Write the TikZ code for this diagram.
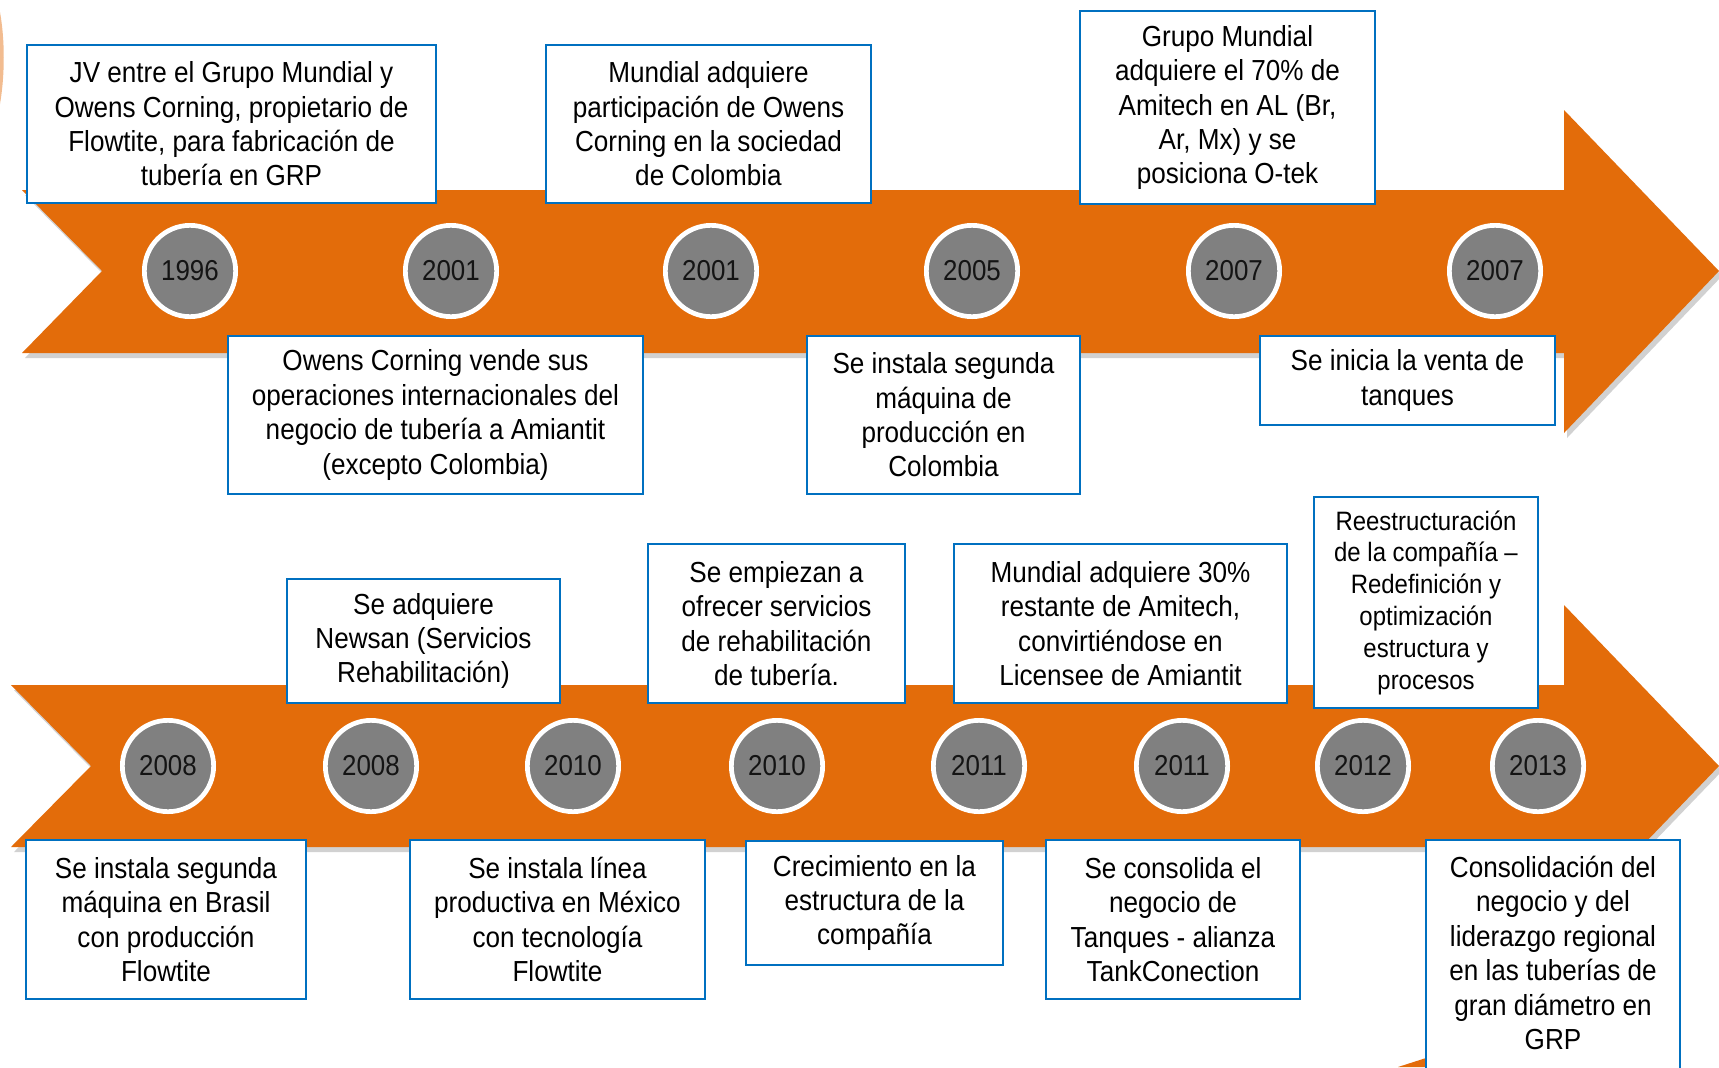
\documentclass[tikz,border=0pt]{standalone}
\usepackage{fontspec}
\setmainfont{Liberation Sans}[FakeStretch=0.9]
\definecolor{band}{RGB}{227,108,10}
\definecolor{boxblue}{RGB}{0,112,192}
\definecolor{circgray}{RGB}{128,128,128}
\definecolor{yeartxt}{RGB}{20,20,20}
\tikzset{
  evbox/.style={draw=boxblue, line width=1.1pt, fill=white, align=center, inner sep=0pt,
    font=\fontsize{14.5pt}{17.2pt}\selectfont, text=black},
  evtext/.style={align=center, inner sep=0pt, font=\fontsize{14.5pt}{17.2pt}\selectfont, text=black},
  yearc/.style={circle, draw=white, line width=2.35pt, fill=circgray, minimum size=45.65pt,
    inner sep=0pt, font=\fontsize{14.4pt}{16pt}\selectfont, text=yeartxt},
  bandshadow/.style={fill=black, opacity=0.18}
}
\begin{document}
\begin{tikzpicture}[x=0.5pt,y=-0.5pt]
\useasboundingbox (0,0) rectangle (1719,1067);
\clip (0,0) rectangle (1719,1067);
\fill[white] (0,0) rectangle (1719,1067);
% stray fragments at the edges
\fill[band, opacity=0.45] (0,12) .. controls (5,40) and (5,75) .. (0,104) -- cycle;
\fill[band] (1398,1067) -- (1426,1058) -- (1426,1067) -- cycle;
% top band
\fill[bandshadow] (25,195) -- (1567,195) -- (1567,115) -- (1722,276) -- (1567,438) -- (1567,358) -- (25,358) -- (105,276) -- cycle;
\fill[band] (22,190) -- (1564,190) -- (1564,110) -- (1719,271) -- (1564,433) -- (1564,353) -- (22,353) -- (102,271) -- cycle;
% bottom band
\fill[bandshadow] (14,690) -- (1567,690) -- (1567,610) -- (1722,771) -- (1567,932) -- (1567,852) -- (14,852) -- (94,771) -- cycle;
\fill[band] (11,685) -- (1564,685) -- (1564,605) -- (1719,766) -- (1564,927) -- (1564,847) -- (11,847) -- (91,766) -- cycle;

% top row years
\node[yearc] (y1) at (190,271) {1996};
\node[yearc] (y2) at (451,271) {2001};
\node[yearc] (y3) at (711,271) {2001};
\node[yearc] (y4) at (972,271) {2005};
\node[yearc] (y5) at (1234,271) {2007};
\node[yearc] (y6) at (1495,271) {2007};

% top row boxes
\node[evbox, minimum width=204.5pt, minimum height=79pt] (t1) at (231.5,124)
  {JV entre el Grupo Mundial y\\Owens Corning, propietario de\\Flowtite, para fabricación de\\tubería en GRP};
\node[evbox, minimum width=162.5pt, minimum height=79pt] (t3) at (708.5,124)
  {Mundial adquiere\\participación de Owens\\Corning en la sociedad\\de Colombia};
\node[evbox, minimum width=147.5pt, minimum height=96.5pt] (t5) at (1227.5,107.5)
  {Grupo Mundial\\adquiere el 70\% de\\Amitech en AL (Br,\\Ar, Mx) y se\\posiciona O-tek};
\node[evbox, minimum width=207.5pt, minimum height=79pt] (t2) at (435.5,415)
  {Owens Corning vende sus\\operaciones internacionales del\\negocio de tubería a Amiantit\\(excepto Colombia)};
\node[evbox, minimum width=136.5pt, minimum height=79pt] (t4) at (943.5,415)
  {Se instala segunda\\máquina de\\producción en\\Colombia};
\node[evbox, minimum width=147.5pt, minimum height=44.5pt] (t6) at (1407.5,380.5)
  {Se inicia la venta de\\tanques};

% bottom row years
\node[yearc] (z1) at (168,766) {2008};
\node[yearc] (z2) at (371,766) {2008};
\node[yearc] (z3) at (573,766) {2010};
\node[yearc] (z4) at (777,766) {2010};
\node[yearc] (z5) at (979,766) {2011};
\node[yearc] (z6) at (1182,766) {2011};
\node[yearc] (z7) at (1363,766) {2012};
\node[yearc] (z8) at (1538,766) {2013};

% bottom row boxes above band
\node[evbox, minimum width=136.5pt, minimum height=62pt] (u2) at (423.5,641)
  {Se adquiere\\Newsan (Servicios\\Rehabilitación)};
\node[evbox, minimum width=128.5pt, minimum height=79.5pt] (u4) at (776.5,623.5)
  {Se empiezan a\\ofrecer servicios\\de rehabilitación\\de tubería.};
\node[evbox, minimum width=166.5pt, minimum height=79.5pt] (u6) at (1120.5,623.5)
  {Mundial adquiere 30\%\\restante de Amitech,\\convirtiéndose en\\Licensee de Amiantit};
\node[evbox, minimum width=112pt, minimum height=105.5pt,
  font=\fontsize{13.3pt}{15.9pt}\selectfont] (u7) at (1426,602.5)
  {Reestructuración\\de la compañía –\\Redefinición y\\optimización\\estructura y\\procesos};

% bottom row boxes below band
\node[evbox, minimum width=140pt, minimum height=79.5pt] (d1) at (166,919.5)
  {Se instala segunda\\máquina en Brasil\\con producción\\Flowtite};
\node[evbox, minimum width=147.5pt, minimum height=79.5pt] (d3) at (557.5,919.5)
  {Se instala línea\\productiva en México\\con tecnología\\Flowtite};
\node[evbox, minimum width=128.5pt, minimum height=62pt] (d5) at (874.5,903)
  {Crecimiento en la\\estructura de la\\compañía};
\node[evbox, minimum width=127pt, minimum height=79.5pt] (d6) at (1173,919.5)
  {Se consolida el\\negocio de\\Tanques - alianza\\TankConection};
\node[evbox, minimum width=127pt, minimum height=124pt] (d8) at (1553,964) {};
\node[evtext] (d8t) at (1553,953)
  {Consolidación del\\negocio y del\\liderazgo regional\\en las tuberías de\\gran diámetro en\\GRP};
\end{tikzpicture}
\end{document}
